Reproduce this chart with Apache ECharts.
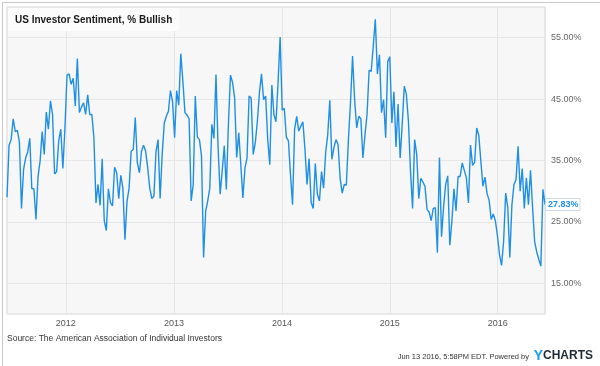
<!DOCTYPE html>
<html><head><meta charset="utf-8">
<script src="https://cdn.jsdelivr.net/npm/echarts@6/dist/echarts.min.js"></script>
<style>html,body{margin:0;padding:0;background:#fff}#c{width:600px;height:366px}</style>
</head><body><div id="c"></div>
<script>
// Weekly AAII bullish readings (%), first reading on Thursday 16 June 2011
const firstWeek = [2011, 5, 16];
const bullishA = [29.0, 37.5, 38.4, 41.8, 39.7, 39.9, 38.0, 27.2, 33.5, 35.4, 36.4, 38.6, 30.4, 30.4, 25.4, 32.4, 34.9, 39.7, 36.0, 42.9, 40.1, 44.7, 42.5, 32.8, 33.2, 38.2, 40.1, 33.7, 40.3, 48.9, 49.1, 47.4, 48.4, 43.9, 51.6, 42.8, 43.7, 44.4, 42.5, 45.7, 42.5, 42.5, 38.7, 28.1, 31.1, 27.7, 35.3, 25.2, 23.6, 30.4, 28.1, 27.6, 33.9];
const bullishB = [33.0, 28.8, 32.6, 30.5, 22.1, 28.3, 30.5, 36.5, 36.8, 42.0, 34.6, 33.0, 36.5, 37.5, 36.5, 33.8, 30.5, 28.8, 29.2, 36.4, 38.4, 28.8, 36.0, 41.1, 42.2, 43.0, 46.4, 44.6, 38.7, 46.4, 44.0, 52.4, 47.9, 42.8, 42.4, 41.8, 28.4, 31.1, 45.5, 38.8, 38.4, 35.7, 19.2, 26.7, 28.4, 30.5, 40.9, 38.6, 49.0, 37.3, 29.5, 33.3];
const bullishC = [37.4, 30.3, 40.9, 48.9, 47.7, 45.2, 35.5, 39.5, 34.3, 28.9, 33.8, 35.4, 45.5, 45.1, 36.0, 37.9, 41.4, 46.1, 49.1, 44.9, 45.5, 38.4, 34.3, 47.3, 42.5, 41.3, 47.7, 55.1, 43.2, 43.5, 38.8, 38.2, 32.7, 27.8, 40.1, 42.2, 39.8, 40.6, 41.3, 36.8, 31.1, 35.3, 28.1, 27.2, 34.5, 29.5, 28.4, 33.2, 30.5, 36.3, 39.2, 44.8];
const bullishD = [35.2, 37.1, 38.4, 37.6, 32.1, 29.7, 31.1, 31.0, 38.4, 44.4, 52.0, 44.9, 40.3, 42.2, 41.8, 35.4, 39.2, 42.5, 49.7, 49.5, 53.6, 58.0, 49.1, 52.2, 42.8, 44.9, 38.7, 51.1, 51.9, 41.1, 46.2, 37.2, 44.2, 35.4, 40.9, 47.1, 45.8, 41.4, 33.3, 27.2, 38.4, 36.0, 28.8, 32.1, 31.5, 30.8, 27.0, 26.6, 25.2, 27.2, 27.3, 20.0];
const bullishE = [35.5, 22.6, 27.5, 31.1, 32.5, 21.2, 25.1, 30.4, 26.8, 32.4, 32.4, 34.6, 33.4, 32.2, 28.1, 37.5, 34.2, 34.7, 40.3, 39.1, 34.9, 30.8, 32.3, 29.6, 28.5, 25.4, 26.3, 25.2, 22.8, 19.7, 17.9, 21.8, 29.7, 27.4, 19.2, 27.7, 31.1, 31.9, 37.3, 30.0, 33.7, 27.2, 32.2, 27.8, 33.4, 27.3, 21.8, 20.1, 18.9, 17.8, 30.3, 27.83];
const yTickLabels = [15, 25, 35, 45, 55];
const yRange = [10, 60];

const values = [].concat(bullishA, bullishB, bullishC, bullishD, bullishE);
const dates = values.map((v, i) => new Date(firstWeek[0], firstWeek[1], firstWeek[2] + 7 * i));
const seriesData = values.map((v, i) => [dates[i], v]);
const lastValue = values[values.length - 1];

const FONT = '"Liberation Sans", Arial, Helvetica, sans-serif';
const BLUE = '#1f8fe5';
const chart = echarts.init(document.getElementById('c'), null, {renderer: 'canvas'});
chart.setOption({
  animation: false,
  textStyle: {fontFamily: FONT},
  title: {
    text: 'US Investor Sentiment, % Bullish',
    left: 8, top: 8,
    padding: [7, 7, 6, 7],
    backgroundColor: '#fcfcfc',
    textStyle: {fontSize: 10, fontWeight: 'bold', color: '#1a1a1a', fontFamily: FONT}
  },
  grid: {left: 7, top: 7, right: 55, bottom: 52, show: true, backgroundColor: '#f7f7f7', borderColor: '#d6d6d6', borderWidth: 1, containLabel: false},
  xAxis: {
    type: 'time',
    min: dates[0],
    max: dates[dates.length - 1],
    minInterval: 3600 * 24 * 1000 * 365,
    splitNumber: 5,
    axisLine: {show: false},
    axisTick: {show: false},
    splitLine: {show: true, lineStyle: {color: '#e6e6e6', width: 1}},
    axisLabel: {
      showMinLabel: false, showMaxLabel: false,
      fontSize: 9, color: '#555', margin: 5, fontFamily: FONT,
      formatter: function (val) {
        const d = new Date(val);
        return (d.getMonth() === 0 && d.getDate() === 1) ? String(d.getFullYear()) : '';
      }
    }
  },
  yAxis: {
    type: 'value',
    position: 'right',
    min: yRange[0], max: yRange[1], interval: 5,
    axisLine: {show: false},
    axisTick: {show: false},
    splitLine: {show: true, lineStyle: {color: ['rgba(0,0,0,0)', '#e6e6e6'], width: 1}},
    axisLabel: {
      fontSize: 9, color: '#666', margin: 6, fontFamily: FONT,
      formatter: function (v) { return yTickLabels.indexOf(v) >= 0 ? v.toFixed(2) + '%' : ''; }
    }
  },
  series: [{
    type: 'line',
    data: seriesData,
    showSymbol: false,
    symbol: 'none',
    lineStyle: {color: BLUE, width: 1.4},
    itemStyle: {color: BLUE},
    endLabel: {
      show: true,
      formatter: function () { return lastValue.toFixed(2) + '%'; },
      color: BLUE, fontSize: 9, fontWeight: 'bold', fontFamily: FONT,
      backgroundColor: '#fff', borderColor: '#cfdbe6', borderWidth: 1,
      padding: [1, 1, 1, 2], distance: 1
    }
  }],
  graphic: [
    {type: 'rect', left: 0, top: 0, shape: {x: 0.5, y: 0.5, width: 599, height: 365}, style: {fill: 'none', stroke: '#c8c8c8', lineWidth: 1}, silent: true, z: -1},
    {type: 'text', left: 7, top: 334, style: {text: 'Source: The American Association of Individual Investors', fontSize: 8.5, fill: '#333', fontFamily: FONT}},
    {type: 'text', right: 71, top: 353, style: {text: 'Jun 13 2016, 5:58PM EDT. Powered by', fontSize: 7.5, fill: '#333', fontFamily: FONT}},
    {type: 'text', right: 7, top: 349, style: {
      text: '{y|Y}{c|CHARTS}',
      rich: {
        y: {fontSize: 14, fontWeight: 'bold', fill: '#1aa3e8', fontFamily: FONT},
        c: {fontSize: 12, fontWeight: 'bold', fill: '#1e2a36', fontFamily: FONT}
      }
    }}
  ]
});
</script>
</body></html>
